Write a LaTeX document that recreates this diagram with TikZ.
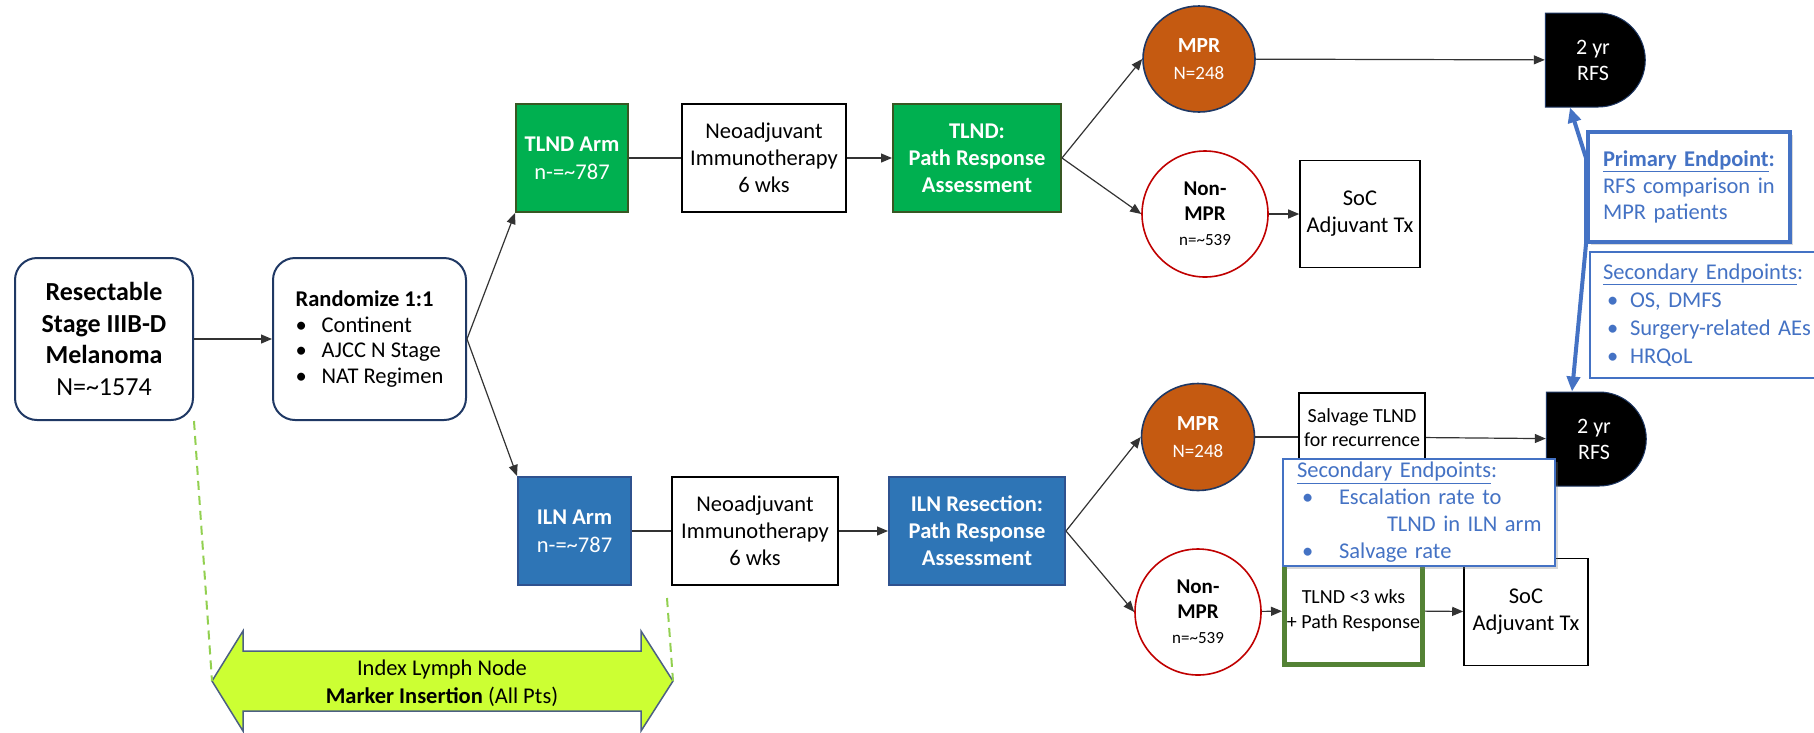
\documentclass[tikz,border=0pt]{standalone}
\usepackage{fontspec}
\setmainfont{Carlito}
\usetikzlibrary{arrows.meta,shapes.geometric,shapes.misc,shadows}

\definecolor{navy}{HTML}{1F3864}
\definecolor{tlndgreen}{HTML}{00B050}
\definecolor{tlnddark}{HTML}{385723}
\definecolor{ilnblue}{HTML}{2E75B6}
\definecolor{ilndark}{HTML}{2F528F}
\definecolor{mprorange}{HTML}{C55A11}
\definecolor{nonred}{HTML}{C00000}
\definecolor{epblue}{HTML}{4472C4}
\definecolor{limefill}{HTML}{CCFF33}
\definecolor{limedash}{HTML}{92D050}
\definecolor{gboxgreen}{HTML}{548235}

\newcommand{\fsz}[2]{\fontsize{#1pt}{#2pt}\selectfont}
\newcommand{\ebul}[2]{\makebox[#1][l]{\textbullet}#2}

\begin{document}
\begin{tikzpicture}[x=1pt, y=-1pt, >={Triangle[length=11pt,width=9pt]},
  every node/.style={inner sep=0pt},
  navybox/.style={draw=navy, line width=2pt, rounded corners=22pt, fill=white, align=center},
  plainbox/.style={draw=black, line width=1.6pt, fill=white, align=center},
  greenbox/.style={draw=tlnddark, line width=2pt, fill=tlndgreen, text=white, align=center},
  bluebox/.style={draw=ilndark, line width=2pt, fill=ilnblue, text=white, align=center},
  mprnode/.style={ellipse, draw=navy, line width=1.6pt, fill=mprorange, text=white, align=center},
  nonmprnode/.style={ellipse, draw=nonred, line width=1.6pt, fill=white, align=center},
  rfsnode/.style={rounded rectangle, rounded rectangle west arc=none, draw=navy, line width=1pt,
    fill=black, text=white, align=center, minimum width=100pt, minimum height=94pt, font=\fsz{22}{26}},
  endbox/.style={draw=epblue, fill=white, text=epblue, align=left},
  link/.style={draw=black!80, line width=1.2pt},
  epline/.style={draw=epblue, line width=4pt, >={Triangle[length=15pt,width=13pt]}},
  ilmdash/.style={draw=limedash, line width=2pt, dash pattern=on 9pt off 6pt}]

  \useasboundingbox (0,0) rectangle (1814,732);

  % entry and randomisation
  \node[navybox, minimum width=178pt, minimum height=162pt, font=\fsz{26}{31.7}] (resect) at (104,339)
    {\textbf{Resectable}\\\textbf{Stage IIIB-D}\\\textbf{Melanoma}\\N=\textasciitilde1574};
  \node[navybox, minimum width=193pt, minimum height=162pt, align=left, font=\fsz{22.5}{25.7}] (rand) at (369.5,339)
    {\textbf{Randomize 1:1}\\\ebul{26pt}{Continent}\\\ebul{26pt}{AJCC N Stage}\\\ebul{26pt}{NAT Regimen}};

  % TLND arm
  \node[greenbox, minimum width=112pt, minimum height=108pt, font=\fsz{22.5}{28}] (tlndarm) at (572,158)
    {\textbf{TLND Arm}\\n-=\textasciitilde787};
  \node[plainbox, minimum width=164pt, minimum height=108pt, font=\fsz{22.5}{27}] (neoA) at (764,158)
    {Neoadjuvant\\Immunotherapy\\6 wks};
  \node[greenbox, minimum width=168pt, minimum height=108pt, font=\fsz{22.5}{27}] (tlndpath) at (977,158)
    {\textbf{TLND:}\\\textbf{Path Response}\\\textbf{Assessment}};

  % ILN arm
  \node[bluebox, minimum width=113pt, minimum height=108pt, font=\fsz{22.5}{28}] (ilnarm) at (574.5,531)
    {\textbf{ILN Arm}\\n-=\textasciitilde787};
  \node[plainbox, minimum width=166pt, minimum height=108pt, font=\fsz{22.5}{27}] (neoB) at (755,531)
    {Neoadjuvant\\Immunotherapy\\6 wks};
  \node[bluebox, minimum width=176pt, minimum height=108pt, font=\fsz{22.5}{27}] (ilnres) at (977,531)
    {\textbf{ILN Resection:}\\\textbf{Path Response}\\\textbf{Assessment}};

  % TLND outcomes
  \node[mprnode, minimum width=112pt, minimum height=106pt, font=\fsz{21.5}{27}] (mprA) at (1199,59)
    {\textbf{MPR}\\{\fsz{19}{27}N=248}};
  \node[nonmprnode, minimum width=126pt, minimum height=126pt, font=\fsz{21}{25}] (nonA) at (1205,214)
    {\textbf{Non-}\\\textbf{MPR}\\{\fsz{17}{24}n=\textasciitilde539}};
  \node[plainbox, minimum width=120pt, minimum height=107pt, font=\fsz{22.5}{27}] (socA) at (1360,214)
    {SoC\\Adjuvant Tx};
  \node[rfsnode] (rfsA) at (1593,60) {2 yr\\RFS};

  % ILN outcomes
  \node[mprnode, minimum width=113pt, minimum height=107pt, font=\fsz{21.5}{27}] (mprB) at (1198,437)
    {\textbf{MPR}\\{\fsz{19}{27}N=248}};
  \node[plainbox, minimum width=126pt, minimum height=88pt] (salv) at (1362,437) {};
  \node[align=center, font=\fsz{20}{24}] (salvtxt) at (1362,428) {Salvage TLND\\for recurrence};
  \node[rfsnode] (rfsB) at (1594,439) {2 yr\\RFS};
  \node[nonmprnode, minimum width=126pt, minimum height=126pt, font=\fsz{21}{25}] (nonB) at (1198,612)
    {\textbf{Non-}\\\textbf{MPR}\\{\fsz{17}{24}n=\textasciitilde539}};
  \node[draw=gboxgreen, line width=5pt, fill=white, align=center, minimum width=138pt, minimum height=108pt,
    font=\fsz{20}{25}] (tlnd3) at (1353.5,610.5) {TLND <3 wks\\+ Path Response};
  \node[plainbox, minimum width=124pt, minimum height=107pt, font=\fsz{22.5}{27}] (socB) at (1526,612)
    {SoC\\Adjuvant Tx};

  % connectors
  \draw[link, ->] (resect) -- (rand);
  \draw[link, ->] (rand.east) -- (tlndarm.south west);
  \draw[link, ->] (rand.east) -- (ilnarm.north west);
  \draw[link] (tlndarm) -- (neoA);
  \draw[link, ->] (neoA) -- (tlndpath);
  \draw[link] (ilnarm) -- (neoB);
  \draw[link, ->] (neoB) -- (ilnres);
  \draw[link, ->] (tlndpath.east) -- (mprA.west);
  \draw[link, ->] (tlndpath.east) -- (nonA.west);
  \draw[link, ->] (ilnres.east) -- (mprB.west);
  \draw[link, ->] (ilnres.east) -- (nonB.west);
  \draw[link, ->] (mprA) -- (rfsA);
  \draw[link, ->] (nonA) -- (socA);
  \draw[link] (mprB) -- (salv);
  \draw[link, ->] (salv) -- (rfsB);
  \draw[link, ->] (nonB) -- (tlnd3);
  \draw[link, ->] (tlnd3) -- (socB);

  % secondary endpoints of the ILN arm
  \node[endbox, line width=1.6pt, drop shadow={shadow xshift=3pt, shadow yshift=-3pt, opacity=0.3},
    minimum width=272pt, minimum height=107pt, text width=244pt, font=\fsz{22.5}{27}] (secB) at (1419,512.5)
    {\underline{Secondary Endpoints}:\\
     \hspace*{5pt}\ebul{37pt}{Escalation rate to}\\
     \hspace*{90pt}\mbox{TLND in ILN arm}\\
     \hspace*{5pt}\ebul{37pt}{Salvage rate}};

  % endpoints
  \node[endbox, line width=1.6pt, minimum width=240pt, minimum height=126pt, text width=214pt,
    font=\fsz{22.5}{28}] (secR) at (1710,315)
    {\underline{Secondary Endpoints}:\\
     \hspace*{4pt}\ebul{23pt}{OS, DMFS}\\
     \hspace*{4pt}\ebul{23pt}{Surgery-related AEs}\\
     \hspace*{4pt}\ebul{23pt}{HRQoL}};
  \node[endbox, line width=4pt, drop shadow={shadow xshift=3pt, shadow yshift=-3pt, opacity=0.3},
    minimum width=202pt, minimum height=110pt, text width=172pt, font=\fsz{22.5}{26.5}] (prim) at (1689,187)
    {\textbf{\underline{Primary Endpoint}:}\\RFS comparison in\\MPR patients};
  \draw[epline, <->] ([xshift=-23pt]rfsA.south) -- ([yshift=-28pt]prim.north west)
    -- (prim.south west) -- ([xshift=-22pt]rfsB.north);

  % marker insertion arrow
  \coordinate (tipL) at (212,681);
  \coordinate (tipR) at (673,681);
  \fill[limefill, draw=navy!80, line width=1.5pt] (tipL) -- (243,631) -- (243,651) -- (641,651)
    -- (641,631) -- (tipR) -- (641,731) -- (641,711) -- (243,711) -- (243,731) -- cycle;
  \node[align=center, font=\fsz{22.5}{28}] (marker) at (442,683)
    {Index Lymph Node\\\textbf{Marker Insertion} (All Pts)};
  \coordinate (dashR) at (667,598);
  \draw[ilmdash] (resect.south east) -- (tipL);
  \draw[ilmdash] (dashR) -- (tipR);

\end{tikzpicture}
\end{document}
